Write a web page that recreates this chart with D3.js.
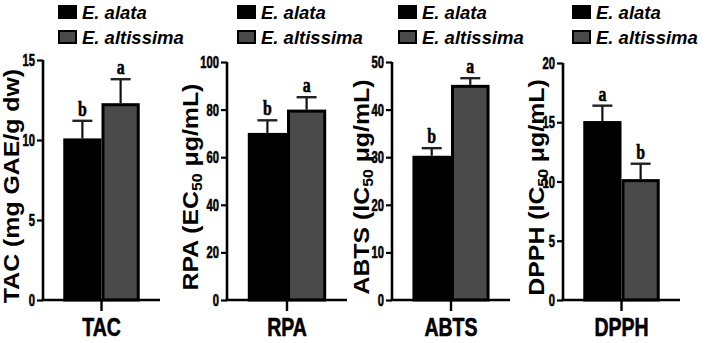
<!DOCTYPE html>
<html>
<head>
<meta charset="utf-8">
<script src="https://cdn.jsdelivr.net/npm/d3@7"></script>
<style>
  html, body { margin: 0; padding: 0; background: #fff; }
  svg { display: block; }
  .sans { font-family: "Liberation Sans", Arial, sans-serif; font-weight: bold; fill: #000; }
  .serif { font-family: "Liberation Serif", "Times New Roman", serif; font-weight: bold; fill: #000; }
  .heavy { stroke: #000; stroke-width: 0.6px; }
</style>
</head>
<body>
<svg id="chart" width="708" height="343"></svg>
<script>
// ----- data -----
var categories = ['TAC', 'RPA', 'ABTS', 'DPPH'];
var series = ['E. alata', 'E. altissima'];
var alataMeans = [10.1, 70.2, 30.3, 15.1];
var alataErr = [1.1, 5.3, 1.6, 1.3];
var altissimaMeans = [12.3, 80, 45.2, 10.2];
var altissimaErr = [1.5, 5.2, 1.4, 1.3];
var alataLetters = ['b', 'b', 'b', 'a'];
var altissimaLetters = ['a', 'a', 'a', 'b'];
var yMax = [15, 100, 50, 20];
var yTicks = [[0, 5, 10, 15], [0, 20, 40, 60, 80, 100], [0, 10, 20, 30, 40, 50], [0, 5, 10, 15, 20]];
// y titles: [main, subscript, rest]
var yTitles = [['TAC (mg GAE/g dw)', '', ''], ['RPA (EC', '50', ' μg/mL)'], ['ABTS (IC', '50', ' μg/mL)'], ['DPPH (IC', '50', ' μg/mL)']];

// ----- layout per panel -----
var layout = [
  { ax: 43,  right: 160, top: 60, titleX: 19,  legX: 58 },
  { ax: 227, right: 347, top: 62, titleX: 198, legX: 237 },
  { ax: 392, right: 510, top: 62, titleX: 369, legX: 398 },
  { ax: 563, right: 680, top: 63, titleX: 544, legX: 572 }
];
var BOTTOM = 300;
var colors = { 'E. alata': '#000', 'E. altissima': '#4a4a4a' };

var svg = d3.select('#chart');

function squeezedText(g, x, y, txt, size, sx, cls, anchor) {
  return g.append('text').attr('class', cls)
    .attr('transform', 'translate(' + x + ',' + y + ') scale(' + sx + ',1)')
    .attr('text-anchor', anchor || 'middle')
    .style('font-size', size + 'px')
    .text(txt);
}

categories.forEach(function (cat, i) {
  var L = layout[i];
  var g = svg.append('g');
  var y = d3.scaleLinear().domain([0, yMax[i]]).range([BOTTOM, L.top]);
  var x0 = d3.scaleBand().domain([cat]).range([L.ax, L.right]).paddingInner(0).paddingOuter(0.265);
  var x1 = d3.scaleBand().domain(series).range([0, x0.bandwidth()]);
  var rows = [
    { s: series[0], v: alataMeans[i], e: alataErr[i], l: alataLetters[i] },
    { s: series[1], v: altissimaMeans[i], e: altissimaErr[i], l: altissimaLetters[i] }
  ];

  // error bars (upward only) drawn behind bars
  rows.forEach(function (r) {
    var cx = x0(cat) + x1(r.s) + x1.bandwidth() / 2;
    g.append('line').attr('x1', cx).attr('x2', cx).attr('y1', y(r.v)).attr('y2', y(r.v + r.e))
      .attr('stroke', '#111').attr('stroke-width', 2.2);
    g.append('line').attr('x1', cx - 10).attr('x2', cx + 10).attr('y1', y(r.v + r.e)).attr('y2', y(r.v + r.e))
      .attr('stroke', '#222').attr('stroke-width', 2.4);
    squeezedText(g, cx, y(r.v + r.e) - 5, r.l, 22, 0.72, 'serif heavy');
  });

  // bars
  g.selectAll('rect.bar').data(rows).enter().append('rect').attr('class', 'bar')
    .attr('x', function (r) { return x0(cat) + x1(r.s) + 1.5; })
    .attr('width', x1.bandwidth() - 3)
    .attr('y', function (r) { return y(r.v) + 1.5; })
    .attr('height', function (r) { return BOTTOM - y(r.v) - 1.5; })
    .attr('fill', function (r) { return colors[r.s]; })
    .attr('stroke', '#000').attr('stroke-width', 3);

  // y axis
  var yAxis = d3.axisLeft(y).tickValues(yTicks[i]).tickSize(6).tickPadding(3);
  var ya = g.append('g').attr('transform', 'translate(' + L.ax + ',0)').call(yAxis);
  ya.select('.domain').attr('stroke', '#000').attr('stroke-width', 2.6).attr('d', 'M0,' + BOTTOM + 'V' + L.top);
  ya.selectAll('.tick line').attr('stroke', '#000').attr('stroke-width', 2.2);
  ya.selectAll('.tick text').remove();
  ya.selectAll('.tick').each(function (d) {
    squeezedText(d3.select(this), -8, 5.5, d, 16, 0.7, 'sans heavy', 'end');
  });

  // x axis
  var xAxis = d3.axisBottom(x0).tickSize(11).tickSizeOuter(0);
  var xa = g.append('g').attr('transform', 'translate(0,' + BOTTOM + ')').call(xAxis);
  xa.select('.domain').attr('stroke', '#000').attr('stroke-width', 2.6)
    .attr('d', 'M' + (L.ax - 1.3) + ',0H' + L.right);
  xa.selectAll('.tick line').attr('stroke', '#000').attr('stroke-width', 2.4);
  xa.selectAll('.tick text').remove();
  xa.selectAll('.tick').each(function (d) {
    squeezedText(d3.select(this), 0, 36, d, 25, 0.78, 'sans heavy');
  });

  // y title
  var t = g.append('text').attr('class', 'sans')
    .attr('transform', 'translate(' + L.titleX + ',' + ((L.top + BOTTOM) / 2 + 6) + ') rotate(-90) scale(1.13,1)')
    .attr('text-anchor', 'middle').style('font-size', '22px');
  t.append('tspan').text(yTitles[i][0]);
  if (yTitles[i][1]) {
    t.append('tspan').attr('dy', 4).style('font-size', '14px').text(yTitles[i][1]);
    t.append('tspan').attr('dy', -4).text(yTitles[i][2]);
  }

  // legend
  series.forEach(function (s, k) {
    var ly = 5 + k * 25;
    g.append('rect').attr('x', L.legX + 1).attr('y', ly + 1).attr('width', 17).attr('height', 12)
      .attr('fill', colors[s]).attr('stroke', '#000').attr('stroke-width', 2);
    g.append('text').attr('class', 'sans').attr('x', L.legX + 24).attr('y', ly + 14)
      .style('font-size', '18.5px').style('font-style', 'italic').text(s);
  });
});
</script>
</body>
</html>
